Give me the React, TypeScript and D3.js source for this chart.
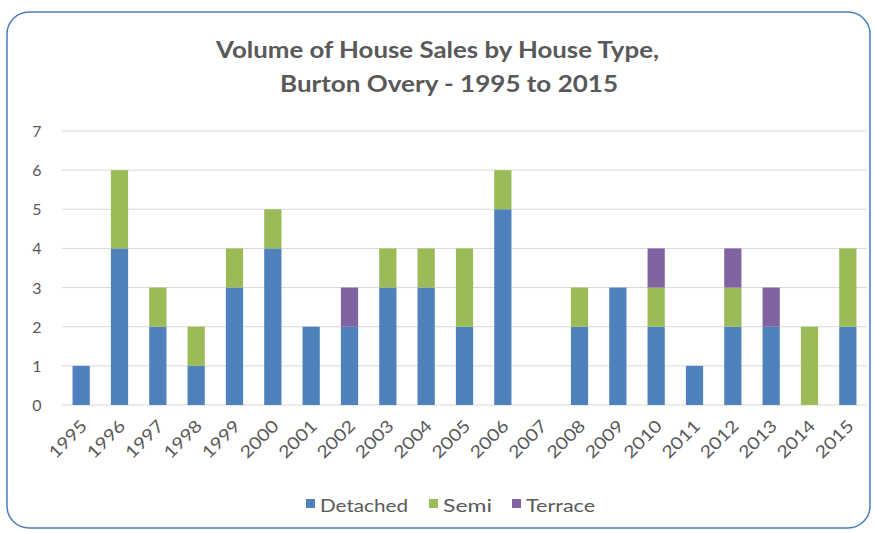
import React from "react";
import * as d3 from "d3";

const years = ["1995","1996","1997","1998","1999","2000","2001","2002","2003","2004","2005","2006","2007","2008","2009","2010","2011","2012","2013","2014","2015"];
const detached = [1,4,2,1,3,4,2,2,3,3,2,5,0,2,3,2,1,2,2,0,2];
const semi =     [0,2,1,1,1,1,0,0,1,1,2,1,0,1,0,1,0,1,0,2,2];
const terrace =  [0,0,0,0,0,0,0,1,0,0,0,0,0,0,0,1,0,1,1,0,0];
const seriesNames = ["Detached","Semi","Terrace"];
const seriesColors = ["#4F81BD","#9BBB59","#8064A2"];
const yTicks = [0,1,2,3,4,5,6,7];

export default function App() {
  const W = 874, H = 533;
  const left = 62, right = 867, top = 131, bottom = 405;
  const x = d3.scaleBand().domain(years).range([left, right]).paddingInner(0.55).paddingOuter(0.275);
  const y = d3.scaleLinear().domain([0, 7]).range([bottom, top]);
  const rows = years.map((yr, i) => ({ year: yr, Detached: detached[i], Semi: semi[i], Terrace: terrace[i] }));
  const stack = d3.stack<any>().keys(seriesNames)(rows);
  const font = "Lato, 'Open Sans', sans-serif";
  const textColor = "#595959";
  const legendX = [306, 429, 512];
  const legendLen = [88, 49, 69];
  return (
    <svg width={W} height={H} style={{ position: "absolute", left: 0, top: 0 }} fontFamily={font}>
      <rect x={0} y={0} width={W} height={H} fill="#fff" />
      <rect x={7} y={12} width={863} height={516} rx={22} ry={22} fill="#fff" stroke="#4A7EBB" strokeWidth={1.5} />
      <text x={216} y={58} fontSize={22} fontWeight="bold" fill={textColor} textLength={443} lengthAdjust="spacingAndGlyphs">Volume of House Sales by House Type,</text>
      <text x={280} y={92} fontSize={22} fontWeight="bold" fill={textColor} textLength={338} lengthAdjust="spacingAndGlyphs">Burton Overy - 1995 to 2015</text>
      {yTicks.map(t => (
        <g key={t}>
          <line x1={left} x2={right} y1={y(t)} y2={y(t)} stroke="#D9D9D9" strokeWidth={1} />
          <text x={37} y={y(t) + 6} textAnchor="middle" fontSize={16} fill={textColor}>{t}</text>
        </g>
      ))}
      {stack.map((s, si) => (
        <g key={si} fill={seriesColors[si]}>
          {s.map((d, i) => d[1] - d[0] > 0 ? (
            <rect key={i} x={x(years[i])!} width={x.bandwidth()} y={y(d[1])} height={y(d[0]) - y(d[1])} />
          ) : null)}
        </g>
      ))}
      {years.map(yr => {
        const cx = x(yr)! + x.bandwidth() / 2 + 7;
        const cy = bottom + 22;
        return (
          <text key={yr} transform={`translate(${cx},${cy}) rotate(-45)`} textAnchor="end" fontSize={17} fill={textColor} textLength={46} lengthAdjust="spacingAndGlyphs">{yr}</text>
        );
      })}
      {seriesNames.map((n, i) => (
        <g key={n}>
          <rect x={legendX[i]} y={499} width={9} height={9} fill={seriesColors[i]} />
          <text x={legendX[i] + 14} y={512} fontSize={18} fill={textColor} textLength={legendLen[i]} lengthAdjust="spacingAndGlyphs">{n}</text>
        </g>
      ))}
    </svg>
  );
}
